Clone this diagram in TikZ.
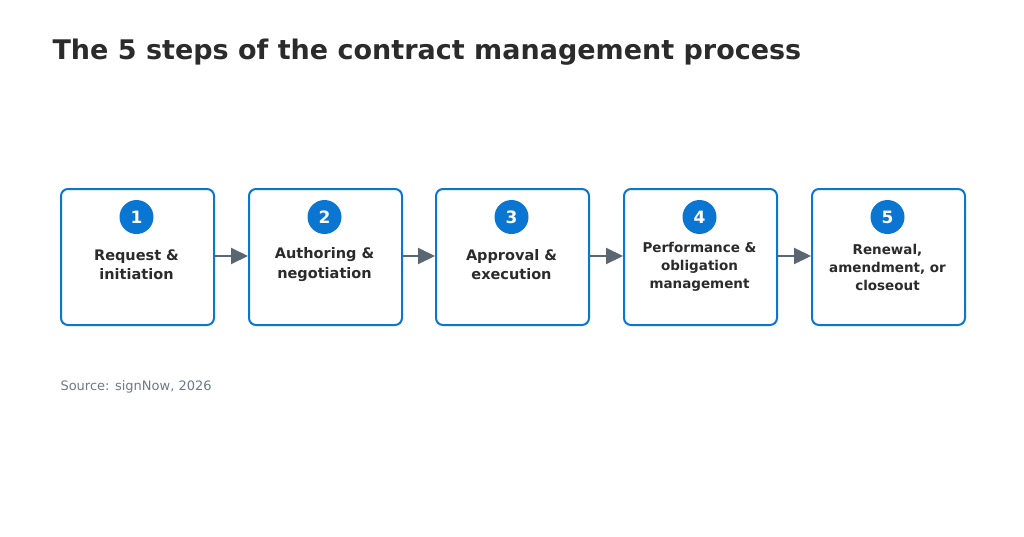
\documentclass[tikz,border=0pt]{standalone}
\usepackage{fontspec}
\setmainfont{DejaVu Sans}
\usetikzlibrary{arrows.meta}
\definecolor{blu}{HTML}{0B76D1}
\definecolor{txt}{HTML}{2B2B2B}
\definecolor{arr}{HTML}{5A6672}
\definecolor{src}{HTML}{6B7A88}
\begin{document}
\begin{tikzpicture}[x=1pt,y=-1pt,
 box/.style={draw=blu,line width=2pt,rounded corners=7pt,minimum width=153pt,minimum height=136pt,anchor=north west,inner sep=0pt},
 num/.style={circle,fill=blu,minimum size=34pt,inner sep=0pt,text=white,font=\fontsize{17}{17}\selectfont\bfseries},
 lab/.style={align=center,text=txt,font=\fontsize{14.5}{19.5}\selectfont\bfseries},
 lab3/.style={align=center,text=txt,font=\fontsize{13.5}{18}\selectfont\bfseries},
 con/.style={draw=arr,line width=2pt,-{Triangle[length=17pt,width=16pt]}}]
\useasboundingbox (0,0) rectangle (1024,536);
\node[anchor=west,text=txt,font=\fontsize{27}{27}\selectfont\bfseries] (title) at (49,52) {The 5 steps of the contract management process};
\foreach \i/\x in {1/60,2/248,3/435,4/623,5/811}{
 \node[box] (b\i) at (\x,188) {};
 \node[num] (n\i) at (\x+76.5,217) {\i};
}
\node[lab] (t1) at (136.5,264.5) {Request \&\\initiation};
\node[lab] (t2) at (324.5,264.5) {Authoring \&\\negotiation};
\node[lab] (t3) at (511.5,264.5) {Approval \&\\execution};
\node[lab3] (t4) at (699.5,267) {Performance \&\\obligation\\management};
\node[lab3] (t5) at (887.5,267) {Renewal,\\amendment, or\\closeout};
\foreach \a/\b in {1/2,2/3,3/4,4/5}{
 \draw[con] (b\a.east|-0,256) -- (b\b.west|-0,256);
}
\node[anchor=west,text=src,font=\fontsize{13}{13}\selectfont] (srcn) at (57,387) {Source: signNow, 2026};
\end{tikzpicture}
\end{document}
